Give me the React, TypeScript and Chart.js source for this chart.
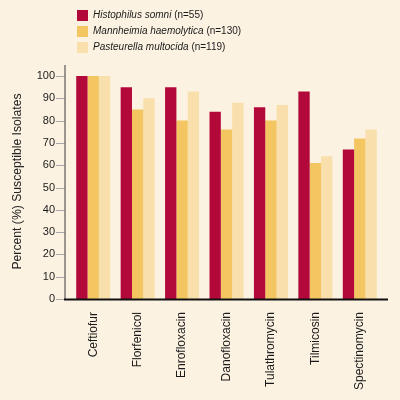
import React, { useEffect, useRef } from "react";
import { Chart, registerables } from "chart.js";

Chart.register(...registerables);

const categories = [
  "Ceftiofur",
  "Florfenicol",
  "Enrofloxacin",
  "Danofloxacin",
  "Tulathromycin",
  "Tilmicosin",
  "Spectinomycin",
];
const histophilus = [100, 95, 95, 84, 86, 93, 67];
const mannheimia = [100, 85, 80, 76, 80, 61, 72];
const pasteurella = [100, 90, 93, 88, 87, 64, 76];
const speciesNames = ["Histophilus somni", "Mannheimia haemolytica", "Pasteurella multocida"];
const sampleSizes = ["(n=55)", "(n=130)", "(n=119)"];
const seriesColors = ["#B3083A", "#F3C662", "#F9DFAB"];
const yTicks = [0, 10, 20, 30, 40, 50, 60, 70, 80, 90, 100];
const yTitle = "Percent (%) Susceptible Isolates";

const BG = "#FCF2E2";
const FONT = "'Liberation Sans', Arial, Helvetica, sans-serif";

const decorPlugin = {
  id: "decor",
  beforeDraw(chart: any) {
    const { ctx, width, height } = chart;
    ctx.save();
    ctx.fillStyle = BG;
    ctx.fillRect(0, 0, width, height);
    ctx.restore();
  },
  afterDraw(chart: any) {
    const { ctx, chartArea, scales } = chart;
    const y = scales.y;
    const axisX = chartArea.left - 6;
    ctx.save();
    // y tick marks
    ctx.strokeStyle = "#A8A6A8";
    ctx.lineWidth = 1;
    yTicks.forEach((v) => {
      const py = Math.round(y.getPixelForValue(v)) + 0.5;
      ctx.beginPath();
      ctx.moveTo(axisX - 9, py);
      ctx.lineTo(axisX, py);
      ctx.stroke();
    });
    // y axis line
    ctx.strokeStyle = "#7A7672";
    ctx.lineWidth = 1.5;
    ctx.beginPath();
    ctx.moveTo(axisX, chartArea.top - 11);
    ctx.lineTo(axisX, chartArea.bottom);
    ctx.stroke();
    // x axis line
    ctx.strokeStyle = "#111111";
    ctx.lineWidth = 2;
    ctx.beginPath();
    ctx.moveTo(axisX - 1, chartArea.bottom + 0.5);
    ctx.lineTo(chartArea.right + 6, chartArea.bottom + 0.5);
    ctx.stroke();

    // y title
    ctx.save();
    ctx.translate(18, 181.5);
    ctx.rotate(-Math.PI / 2);
    ctx.fillStyle = "#222222";
    ctx.font = `12.2px ${FONT}`;
    ctx.textAlign = "center";
    ctx.textBaseline = "middle";
    ctx.fillText(yTitle, 0, 0);
    ctx.restore();

    // legend
    speciesNames.forEach((name, i) => {
      const cy = 15.5 + i * 16;
      ctx.fillStyle = seriesColors[i];
      ctx.fillRect(77, cy - 5.5, 11, 11);
      ctx.fillStyle = "#1A1A1A";
      ctx.textBaseline = "middle";
      ctx.textAlign = "left";
      ctx.font = `italic 10px ${FONT}`;
      ctx.fillText(name, 93, cy);
      const w = ctx.measureText(name + " ").width;
      ctx.font = `10px ${FONT}`;
      ctx.fillText(sampleSizes[i], 93 + w, cy);
    });
    ctx.restore();
  },
};

export default function App() {
  const canvasRef = useRef<HTMLCanvasElement | null>(null);

  useEffect(() => {
    if (!canvasRef.current) return;
    const seriesData = [histophilus, mannheimia, pasteurella];
    const chart = new Chart(canvasRef.current, {
      type: "bar",
      data: {
        labels: categories,
        datasets: seriesData.map((d, i) => ({
          label: `${speciesNames[i]} ${sampleSizes[i]}`,
          data: d,
          backgroundColor: seriesColors[i],
          borderWidth: 0,
          categoryPercentage: 0.765,
          barPercentage: 1.0,
        })),
      },
      options: {
        animation: false,
        responsive: false,
        devicePixelRatio: 1,
        layout: { padding: { top: 76, right: 18, left: 0, bottom: 0 } },
        plugins: {
          legend: { display: false },
          tooltip: { enabled: false },
        },
        scales: {
          x: {
            type: "category",
            offset: true,
            grid: { display: false, drawTicks: false },
            border: { display: false },
            ticks: {
              autoSkip: false,
              minRotation: 90,
              maxRotation: 90,
              padding: 13,
              color: "#1A1A1A",
              font: { family: FONT, size: 12 },
            },
            afterFit: (scale: any) => {
              scale.height = 101;
            },
          },
          y: {
            min: 0,
            max: 100,
            grid: { display: false, drawTicks: false },
            border: { display: false },
            ticks: {
              stepSize: 10,
              padding: 16,
              color: "#1A1A1A",
              font: { family: FONT, size: 11 },
            },
            afterFit: (scale: any) => {
              scale.width = 71;
            },
          },
        },
      },
      plugins: [decorPlugin],
    });
    return () => chart.destroy();
  }, []);

  return (
    <div
      style={{
        position: "fixed",
        left: 0,
        top: 0,
        width: 400,
        height: 400,
        background: BG,
      }}
    >
      <canvas ref={canvasRef} width={400} height={400} />
    </div>
  );
}
